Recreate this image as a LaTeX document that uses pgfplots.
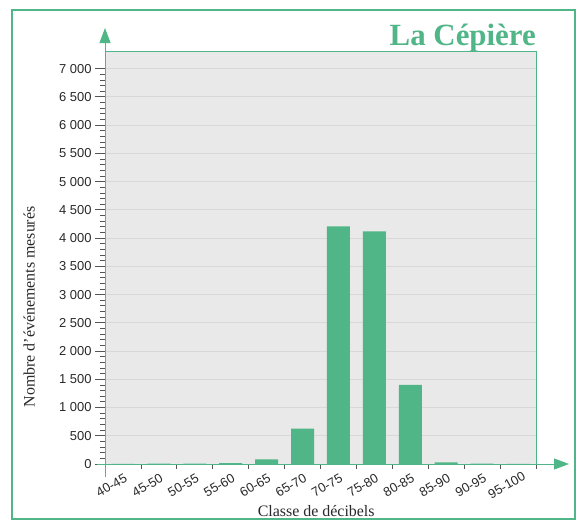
\documentclass[border=0pt]{standalone}
\usepackage{pgfplots}
\pgfplotsset{compat=1.18}
\usepackage{fontspec}
\setmainfont{Liberation Serif}
\newfontfamily\sansf{Liberation Sans}
\usetikzlibrary{arrows.meta}
\definecolor{vert}{RGB}{80,182,136}
\definecolor{fond}{RGB}{233,233,233}
\definecolor{grille}{RGB}{216,216,216}
\definecolor{tickgray}{RGB}{85,85,85}
\definecolor{txtgray}{RGB}{40,40,40}
\begin{document}
\begin{tikzpicture}
\useasboundingbox (0,0) rectangle (580bp,-520bp);
\draw[vert, line width=2bp] (12bp,-10bp) rectangle (575bp,-519bp);
\begin{axis}[
  at={(105bp,-464bp)}, anchor=south west,
  scale only axis, width=431bp, height=412.3bp,
  xmin=0, xmax=12, ymin=0, ymax=7300,
  axis background/.style={fill=fond},
  axis line style={vert, line width=0.8bp},
  ytick={0,500,...,7000},
  minor y tick num=4,
  xtick={0,1,...,12},
  xticklabels={40-45,45-50,50-55,55-60,60-65,65-70,70-75,75-80,80-85,85-90,90-95,95-100,{}},
  tick align=outside,
  major tick length=10bp, minor tick length=5bp,
  every major x tick/.append style={/pgfplots/major tick length=5bp},
  tick style={tickgray, line width=0.8bp},
  xtick pos=bottom, ytick pos=left,
  ymajorgrids, grid style={grille, line width=1bp},
  /pgf/number format/.cd, 1000 sep={\ }, assume math mode=true, /pgfplots/.cd,
  ticklabel style={font=\sansf\fontsize{13}{13}\selectfont, text=txtgray},
  xticklabel style={rotate=30, anchor=center, yshift=-13bp},
  ylabel={Nombre d'événements mesurés},
  xlabel={Classe de décibels},
  every axis y label/.style={at={(axis description cs:-0.176,0.381)}, rotate=90, anchor=center,
    font=\fontsize{16}{16}\selectfont, text=txtgray},
  every axis x label/.style={at={(axis description cs:0.49,0)}, anchor=base, yshift=-52bp,
    font=\fontsize{16}{16}\selectfont, text=txtgray},
  ybar, bar width=0.64, bar shift=0pt,
]
\addplot[fill=vert, draw=none] coordinates {
(0.5,2) (1.5,8) (2.5,8) (3.5,15) (4.5,83) (5.5,628) (6.5,4206) (7.5,4118) (8.5,1400) (9.5,30) (10.5,5) (11.5,3)
};
\end{axis}
\draw[vert, line width=0.8bp, -{Triangle[length=15bp,width=11bp]}] (105bp,-477bp) -- (105bp,-28bp);
\draw[vert, line width=0.8bp, -{Triangle[length=15bp,width=11bp]}] (97bp,-464bp) -- (569bp,-464bp);
\node[anchor=base east, text=vert, font=\bfseries\fontsize{31}{31}\selectfont, inner sep=0pt] at (536bp,-45bp) {La Cépière};
\end{tikzpicture}
\end{document}
